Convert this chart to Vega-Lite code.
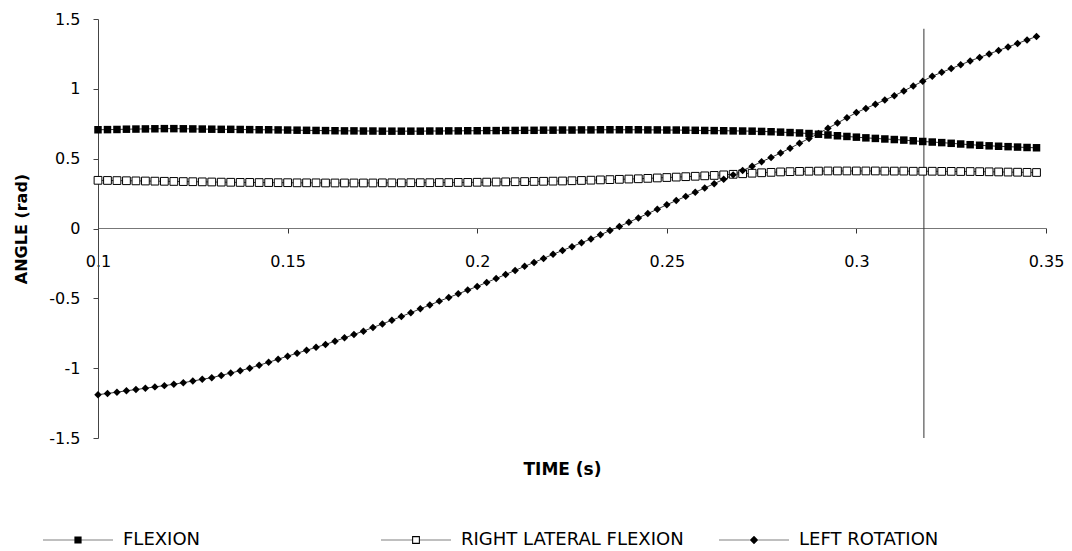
{
"$schema":"https://vega.github.io/schema/vega-lite/v6.json",
"width":948,"height":419,
"autosize":{"type":"none"},
"padding":{"left":98,"top":19,"right":26,"bottom":113},
"background":"white",
"config":{"view":{"stroke":null},"font":"DejaVu Sans","axis":{"grid":false}},
"datasets":{
"marker":[{"time":0.3178,"angle":1.43,"angle_end":-1.5}],
"curves":[
{"time":0.1,"series":"FLEXION","angle":0.707},{"time":0.1025,"series":"FLEXION","angle":0.708},{"time":0.105,"series":"FLEXION","angle":0.709},{"time":0.1075,"series":"FLEXION","angle":0.711},{"time":0.11,"series":"FLEXION","angle":0.712},{"time":0.1125,"series":"FLEXION","angle":0.713},{"time":0.115,"series":"FLEXION","angle":0.714},{"time":0.1175,"series":"FLEXION","angle":0.715},{"time":0.12,"series":"FLEXION","angle":0.715},{"time":0.1225,"series":"FLEXION","angle":0.714},{"time":0.125,"series":"FLEXION","angle":0.713},{"time":0.1275,"series":"FLEXION","angle":0.712},{"time":0.13,"series":"FLEXION","angle":0.711},{"time":0.1325,"series":"FLEXION","angle":0.710},{"time":0.135,"series":"FLEXION","angle":0.710},{"time":0.1375,"series":"FLEXION","angle":0.709},{"time":0.14,"series":"FLEXION","angle":0.708},{"time":0.1425,"series":"FLEXION","angle":0.707},{"time":0.145,"series":"FLEXION","angle":0.707},{"time":0.1475,"series":"FLEXION","angle":0.706},{"time":0.15,"series":"FLEXION","angle":0.705},{"time":0.1525,"series":"FLEXION","angle":0.704},{"time":0.155,"series":"FLEXION","angle":0.703},{"time":0.1575,"series":"FLEXION","angle":0.702},{"time":0.16,"series":"FLEXION","angle":0.701},{"time":0.1625,"series":"FLEXION","angle":0.700},{"time":0.165,"series":"FLEXION","angle":0.699},{"time":0.1675,"series":"FLEXION","angle":0.699},{"time":0.17,"series":"FLEXION","angle":0.698},{"time":0.1725,"series":"FLEXION","angle":0.698},{"time":0.175,"series":"FLEXION","angle":0.697},{"time":0.1775,"series":"FLEXION","angle":0.697},{"time":0.18,"series":"FLEXION","angle":0.697},{"time":0.1825,"series":"FLEXION","angle":0.697},{"time":0.185,"series":"FLEXION","angle":0.697},{"time":0.1875,"series":"FLEXION","angle":0.698},{"time":0.19,"series":"FLEXION","angle":0.698},{"time":0.1925,"series":"FLEXION","angle":0.699},{"time":0.195,"series":"FLEXION","angle":0.699},{"time":0.1975,"series":"FLEXION","angle":0.700},{"time":0.2,"series":"FLEXION","angle":0.700},{"time":0.2025,"series":"FLEXION","angle":0.701},{"time":0.205,"series":"FLEXION","angle":0.701},{"time":0.2075,"series":"FLEXION","angle":0.702},{"time":0.21,"series":"FLEXION","angle":0.702},{"time":0.2125,"series":"FLEXION","angle":0.703},{"time":0.215,"series":"FLEXION","angle":0.703},{"time":0.2175,"series":"FLEXION","angle":0.704},{"time":0.22,"series":"FLEXION","angle":0.704},{"time":0.2225,"series":"FLEXION","angle":0.705},{"time":0.225,"series":"FLEXION","angle":0.705},{"time":0.2275,"series":"FLEXION","angle":0.706},{"time":0.23,"series":"FLEXION","angle":0.706},{"time":0.2325,"series":"FLEXION","angle":0.707},{"time":0.235,"series":"FLEXION","angle":0.707},{"time":0.2375,"series":"FLEXION","angle":0.707},{"time":0.24,"series":"FLEXION","angle":0.707},{"time":0.2425,"series":"FLEXION","angle":0.707},{"time":0.245,"series":"FLEXION","angle":0.706},{"time":0.2475,"series":"FLEXION","angle":0.706},{"time":0.25,"series":"FLEXION","angle":0.705},{"time":0.2525,"series":"FLEXION","angle":0.705},{"time":0.255,"series":"FLEXION","angle":0.704},{"time":0.2575,"series":"FLEXION","angle":0.703},{"time":0.26,"series":"FLEXION","angle":0.702},{"time":0.2625,"series":"FLEXION","angle":0.701},{"time":0.265,"series":"FLEXION","angle":0.700},{"time":0.2675,"series":"FLEXION","angle":0.699},{"time":0.27,"series":"FLEXION","angle":0.698},{"time":0.2725,"series":"FLEXION","angle":0.697},{"time":0.275,"series":"FLEXION","angle":0.695},{"time":0.2775,"series":"FLEXION","angle":0.693},{"time":0.28,"series":"FLEXION","angle":0.690},{"time":0.2825,"series":"FLEXION","angle":0.687},{"time":0.285,"series":"FLEXION","angle":0.684},{"time":0.2875,"series":"FLEXION","angle":0.680},{"time":0.29,"series":"FLEXION","angle":0.675},{"time":0.2925,"series":"FLEXION","angle":0.670},{"time":0.295,"series":"FLEXION","angle":0.664},{"time":0.2975,"series":"FLEXION","angle":0.659},{"time":0.3,"series":"FLEXION","angle":0.654},{"time":0.3025,"series":"FLEXION","angle":0.649},{"time":0.305,"series":"FLEXION","angle":0.645},{"time":0.3075,"series":"FLEXION","angle":0.641},{"time":0.31,"series":"FLEXION","angle":0.637},{"time":0.3125,"series":"FLEXION","angle":0.633},{"time":0.315,"series":"FLEXION","angle":0.628},{"time":0.3175,"series":"FLEXION","angle":0.623},{"time":0.32,"series":"FLEXION","angle":0.619},{"time":0.3225,"series":"FLEXION","angle":0.615},{"time":0.325,"series":"FLEXION","angle":0.610},{"time":0.3275,"series":"FLEXION","angle":0.605},{"time":0.33,"series":"FLEXION","angle":0.600},{"time":0.3325,"series":"FLEXION","angle":0.596},{"time":0.335,"series":"FLEXION","angle":0.592},{"time":0.3375,"series":"FLEXION","angle":0.589},{"time":0.34,"series":"FLEXION","angle":0.586},{"time":0.3425,"series":"FLEXION","angle":0.583},{"time":0.345,"series":"FLEXION","angle":0.580},{"time":0.3475,"series":"FLEXION","angle":0.578},
{"time":0.1,"series":"RIGHT LATERAL FLEXION","angle":0.345},{"time":0.1025,"series":"RIGHT LATERAL FLEXION","angle":0.344},{"time":0.105,"series":"RIGHT LATERAL FLEXION","angle":0.343},{"time":0.1075,"series":"RIGHT LATERAL FLEXION","angle":0.342},{"time":0.11,"series":"RIGHT LATERAL FLEXION","angle":0.341},{"time":0.1125,"series":"RIGHT LATERAL FLEXION","angle":0.340},{"time":0.115,"series":"RIGHT LATERAL FLEXION","angle":0.339},{"time":0.1175,"series":"RIGHT LATERAL FLEXION","angle":0.338},{"time":0.12,"series":"RIGHT LATERAL FLEXION","angle":0.337},{"time":0.1225,"series":"RIGHT LATERAL FLEXION","angle":0.336},{"time":0.125,"series":"RIGHT LATERAL FLEXION","angle":0.335},{"time":0.1275,"series":"RIGHT LATERAL FLEXION","angle":0.334},{"time":0.13,"series":"RIGHT LATERAL FLEXION","angle":0.333},{"time":0.1325,"series":"RIGHT LATERAL FLEXION","angle":0.332},{"time":0.135,"series":"RIGHT LATERAL FLEXION","angle":0.331},{"time":0.1375,"series":"RIGHT LATERAL FLEXION","angle":0.330},{"time":0.14,"series":"RIGHT LATERAL FLEXION","angle":0.330},{"time":0.1425,"series":"RIGHT LATERAL FLEXION","angle":0.329},{"time":0.145,"series":"RIGHT LATERAL FLEXION","angle":0.329},{"time":0.1475,"series":"RIGHT LATERAL FLEXION","angle":0.328},{"time":0.15,"series":"RIGHT LATERAL FLEXION","angle":0.328},{"time":0.1525,"series":"RIGHT LATERAL FLEXION","angle":0.327},{"time":0.155,"series":"RIGHT LATERAL FLEXION","angle":0.327},{"time":0.1575,"series":"RIGHT LATERAL FLEXION","angle":0.327},{"time":0.16,"series":"RIGHT LATERAL FLEXION","angle":0.326},{"time":0.1625,"series":"RIGHT LATERAL FLEXION","angle":0.326},{"time":0.165,"series":"RIGHT LATERAL FLEXION","angle":0.326},{"time":0.1675,"series":"RIGHT LATERAL FLEXION","angle":0.326},{"time":0.17,"series":"RIGHT LATERAL FLEXION","angle":0.326},{"time":0.1725,"series":"RIGHT LATERAL FLEXION","angle":0.326},{"time":0.175,"series":"RIGHT LATERAL FLEXION","angle":0.327},{"time":0.1775,"series":"RIGHT LATERAL FLEXION","angle":0.327},{"time":0.18,"series":"RIGHT LATERAL FLEXION","angle":0.327},{"time":0.1825,"series":"RIGHT LATERAL FLEXION","angle":0.328},{"time":0.185,"series":"RIGHT LATERAL FLEXION","angle":0.328},{"time":0.1875,"series":"RIGHT LATERAL FLEXION","angle":0.328},{"time":0.19,"series":"RIGHT LATERAL FLEXION","angle":0.329},{"time":0.1925,"series":"RIGHT LATERAL FLEXION","angle":0.329},{"time":0.195,"series":"RIGHT LATERAL FLEXION","angle":0.330},{"time":0.1975,"series":"RIGHT LATERAL FLEXION","angle":0.330},{"time":0.2,"series":"RIGHT LATERAL FLEXION","angle":0.331},{"time":0.2025,"series":"RIGHT LATERAL FLEXION","angle":0.332},{"time":0.205,"series":"RIGHT LATERAL FLEXION","angle":0.333},{"time":0.2075,"series":"RIGHT LATERAL FLEXION","angle":0.334},{"time":0.21,"series":"RIGHT LATERAL FLEXION","angle":0.335},{"time":0.2125,"series":"RIGHT LATERAL FLEXION","angle":0.336},{"time":0.215,"series":"RIGHT LATERAL FLEXION","angle":0.337},{"time":0.2175,"series":"RIGHT LATERAL FLEXION","angle":0.338},{"time":0.22,"series":"RIGHT LATERAL FLEXION","angle":0.339},{"time":0.2225,"series":"RIGHT LATERAL FLEXION","angle":0.340},{"time":0.225,"series":"RIGHT LATERAL FLEXION","angle":0.342},{"time":0.2275,"series":"RIGHT LATERAL FLEXION","angle":0.344},{"time":0.23,"series":"RIGHT LATERAL FLEXION","angle":0.346},{"time":0.2325,"series":"RIGHT LATERAL FLEXION","angle":0.348},{"time":0.235,"series":"RIGHT LATERAL FLEXION","angle":0.350},{"time":0.2375,"series":"RIGHT LATERAL FLEXION","angle":0.352},{"time":0.24,"series":"RIGHT LATERAL FLEXION","angle":0.354},{"time":0.2425,"series":"RIGHT LATERAL FLEXION","angle":0.356},{"time":0.245,"series":"RIGHT LATERAL FLEXION","angle":0.359},{"time":0.2475,"series":"RIGHT LATERAL FLEXION","angle":0.362},{"time":0.25,"series":"RIGHT LATERAL FLEXION","angle":0.365},{"time":0.2525,"series":"RIGHT LATERAL FLEXION","angle":0.368},{"time":0.255,"series":"RIGHT LATERAL FLEXION","angle":0.371},{"time":0.2575,"series":"RIGHT LATERAL FLEXION","angle":0.374},{"time":0.26,"series":"RIGHT LATERAL FLEXION","angle":0.377},{"time":0.2625,"series":"RIGHT LATERAL FLEXION","angle":0.380},{"time":0.265,"series":"RIGHT LATERAL FLEXION","angle":0.384},{"time":0.2675,"series":"RIGHT LATERAL FLEXION","angle":0.388},{"time":0.27,"series":"RIGHT LATERAL FLEXION","angle":0.392},{"time":0.2725,"series":"RIGHT LATERAL FLEXION","angle":0.396},{"time":0.275,"series":"RIGHT LATERAL FLEXION","angle":0.399},{"time":0.2775,"series":"RIGHT LATERAL FLEXION","angle":0.402},{"time":0.28,"series":"RIGHT LATERAL FLEXION","angle":0.405},{"time":0.2825,"series":"RIGHT LATERAL FLEXION","angle":0.407},{"time":0.285,"series":"RIGHT LATERAL FLEXION","angle":0.409},{"time":0.2875,"series":"RIGHT LATERAL FLEXION","angle":0.410},{"time":0.29,"series":"RIGHT LATERAL FLEXION","angle":0.411},{"time":0.2925,"series":"RIGHT LATERAL FLEXION","angle":0.412},{"time":0.295,"series":"RIGHT LATERAL FLEXION","angle":0.412},{"time":0.2975,"series":"RIGHT LATERAL FLEXION","angle":0.412},{"time":0.3,"series":"RIGHT LATERAL FLEXION","angle":0.412},{"time":0.3025,"series":"RIGHT LATERAL FLEXION","angle":0.412},{"time":0.305,"series":"RIGHT LATERAL FLEXION","angle":0.412},{"time":0.3075,"series":"RIGHT LATERAL FLEXION","angle":0.411},{"time":0.31,"series":"RIGHT LATERAL FLEXION","angle":0.411},{"time":0.3125,"series":"RIGHT LATERAL FLEXION","angle":0.411},{"time":0.315,"series":"RIGHT LATERAL FLEXION","angle":0.410},{"time":0.3175,"series":"RIGHT LATERAL FLEXION","angle":0.410},{"time":0.32,"series":"RIGHT LATERAL FLEXION","angle":0.410},{"time":0.3225,"series":"RIGHT LATERAL FLEXION","angle":0.409},{"time":0.325,"series":"RIGHT LATERAL FLEXION","angle":0.409},{"time":0.3275,"series":"RIGHT LATERAL FLEXION","angle":0.408},{"time":0.33,"series":"RIGHT LATERAL FLEXION","angle":0.408},{"time":0.3325,"series":"RIGHT LATERAL FLEXION","angle":0.407},{"time":0.335,"series":"RIGHT LATERAL FLEXION","angle":0.406},{"time":0.3375,"series":"RIGHT LATERAL FLEXION","angle":0.405},{"time":0.34,"series":"RIGHT LATERAL FLEXION","angle":0.404},{"time":0.3425,"series":"RIGHT LATERAL FLEXION","angle":0.403},{"time":0.345,"series":"RIGHT LATERAL FLEXION","angle":0.402},{"time":0.3475,"series":"RIGHT LATERAL FLEXION","angle":0.401},
{"time":0.1,"series":"LEFT ROTATION","angle":-1.190},{"time":0.1025,"series":"LEFT ROTATION","angle":-1.181},{"time":0.105,"series":"LEFT ROTATION","angle":-1.172},{"time":0.1075,"series":"LEFT ROTATION","angle":-1.162},{"time":0.11,"series":"LEFT ROTATION","angle":-1.153},{"time":0.1125,"series":"LEFT ROTATION","angle":-1.144},{"time":0.115,"series":"LEFT ROTATION","angle":-1.134},{"time":0.1175,"series":"LEFT ROTATION","angle":-1.125},{"time":0.12,"series":"LEFT ROTATION","angle":-1.115},{"time":0.1225,"series":"LEFT ROTATION","angle":-1.104},{"time":0.125,"series":"LEFT ROTATION","angle":-1.092},{"time":0.1275,"series":"LEFT ROTATION","angle":-1.080},{"time":0.13,"series":"LEFT ROTATION","angle":-1.068},{"time":0.1325,"series":"LEFT ROTATION","angle":-1.052},{"time":0.135,"series":"LEFT ROTATION","angle":-1.035},{"time":0.1375,"series":"LEFT ROTATION","angle":-1.018},{"time":0.14,"series":"LEFT ROTATION","angle":-1.000},{"time":0.1425,"series":"LEFT ROTATION","angle":-0.979},{"time":0.145,"series":"LEFT ROTATION","angle":-0.958},{"time":0.1475,"series":"LEFT ROTATION","angle":-0.936},{"time":0.15,"series":"LEFT ROTATION","angle":-0.914},{"time":0.1525,"series":"LEFT ROTATION","angle":-0.893},{"time":0.155,"series":"LEFT ROTATION","angle":-0.872},{"time":0.1575,"series":"LEFT ROTATION","angle":-0.851},{"time":0.16,"series":"LEFT ROTATION","angle":-0.830},{"time":0.1625,"series":"LEFT ROTATION","angle":-0.807},{"time":0.165,"series":"LEFT ROTATION","angle":-0.783},{"time":0.1675,"series":"LEFT ROTATION","angle":-0.759},{"time":0.17,"series":"LEFT ROTATION","angle":-0.735},{"time":0.1725,"series":"LEFT ROTATION","angle":-0.709},{"time":0.175,"series":"LEFT ROTATION","angle":-0.683},{"time":0.1775,"series":"LEFT ROTATION","angle":-0.657},{"time":0.18,"series":"LEFT ROTATION","angle":-0.630},{"time":0.1825,"series":"LEFT ROTATION","angle":-0.603},{"time":0.185,"series":"LEFT ROTATION","angle":-0.575},{"time":0.1875,"series":"LEFT ROTATION","angle":-0.548},{"time":0.19,"series":"LEFT ROTATION","angle":-0.520},{"time":0.1925,"series":"LEFT ROTATION","angle":-0.494},{"time":0.195,"series":"LEFT ROTATION","angle":-0.468},{"time":0.1975,"series":"LEFT ROTATION","angle":-0.441},{"time":0.2,"series":"LEFT ROTATION","angle":-0.415},{"time":0.2025,"series":"LEFT ROTATION","angle":-0.386},{"time":0.205,"series":"LEFT ROTATION","angle":-0.358},{"time":0.2075,"series":"LEFT ROTATION","angle":-0.329},{"time":0.21,"series":"LEFT ROTATION","angle":-0.300},{"time":0.2125,"series":"LEFT ROTATION","angle":-0.271},{"time":0.215,"series":"LEFT ROTATION","angle":-0.243},{"time":0.2175,"series":"LEFT ROTATION","angle":-0.214},{"time":0.22,"series":"LEFT ROTATION","angle":-0.185},{"time":0.2225,"series":"LEFT ROTATION","angle":-0.157},{"time":0.225,"series":"LEFT ROTATION","angle":-0.130},{"time":0.2275,"series":"LEFT ROTATION","angle":-0.102},{"time":0.23,"series":"LEFT ROTATION","angle":-0.075},{"time":0.2325,"series":"LEFT ROTATION","angle":-0.045},{"time":0.235,"series":"LEFT ROTATION","angle":-0.015},{"time":0.2375,"series":"LEFT ROTATION","angle":0.015},{"time":0.24,"series":"LEFT ROTATION","angle":0.045},{"time":0.2425,"series":"LEFT ROTATION","angle":0.076},{"time":0.245,"series":"LEFT ROTATION","angle":0.107},{"time":0.2475,"series":"LEFT ROTATION","angle":0.138},{"time":0.25,"series":"LEFT ROTATION","angle":0.170},{"time":0.2525,"series":"LEFT ROTATION","angle":0.200},{"time":0.255,"series":"LEFT ROTATION","angle":0.230},{"time":0.2575,"series":"LEFT ROTATION","angle":0.260},{"time":0.26,"series":"LEFT ROTATION","angle":0.290},{"time":0.2625,"series":"LEFT ROTATION","angle":0.321},{"time":0.265,"series":"LEFT ROTATION","angle":0.352},{"time":0.2675,"series":"LEFT ROTATION","angle":0.384},{"time":0.27,"series":"LEFT ROTATION","angle":0.415},{"time":0.2725,"series":"LEFT ROTATION","angle":0.446},{"time":0.275,"series":"LEFT ROTATION","angle":0.478},{"time":0.2775,"series":"LEFT ROTATION","angle":0.509},{"time":0.28,"series":"LEFT ROTATION","angle":0.540},{"time":0.2825,"series":"LEFT ROTATION","angle":0.575},{"time":0.285,"series":"LEFT ROTATION","angle":0.610},{"time":0.2875,"series":"LEFT ROTATION","angle":0.645},{"time":0.29,"series":"LEFT ROTATION","angle":0.680},{"time":0.2925,"series":"LEFT ROTATION","angle":0.718},{"time":0.295,"series":"LEFT ROTATION","angle":0.755},{"time":0.2975,"series":"LEFT ROTATION","angle":0.793},{"time":0.3,"series":"LEFT ROTATION","angle":0.830},{"time":0.3025,"series":"LEFT ROTATION","angle":0.860},{"time":0.305,"series":"LEFT ROTATION","angle":0.890},{"time":0.3075,"series":"LEFT ROTATION","angle":0.920},{"time":0.31,"series":"LEFT ROTATION","angle":0.950},{"time":0.3125,"series":"LEFT ROTATION","angle":0.985},{"time":0.315,"series":"LEFT ROTATION","angle":1.020},{"time":0.3175,"series":"LEFT ROTATION","angle":1.055},{"time":0.32,"series":"LEFT ROTATION","angle":1.090},{"time":0.3225,"series":"LEFT ROTATION","angle":1.118},{"time":0.325,"series":"LEFT ROTATION","angle":1.145},{"time":0.3275,"series":"LEFT ROTATION","angle":1.172},{"time":0.33,"series":"LEFT ROTATION","angle":1.200},{"time":0.3325,"series":"LEFT ROTATION","angle":1.225},{"time":0.335,"series":"LEFT ROTATION","angle":1.250},{"time":0.3375,"series":"LEFT ROTATION","angle":1.275},{"time":0.34,"series":"LEFT ROTATION","angle":1.300},{"time":0.3425,"series":"LEFT ROTATION","angle":1.325},{"time":0.345,"series":"LEFT ROTATION","angle":1.350},{"time":0.3475,"series":"LEFT ROTATION","angle":1.375}
]},
"layer":[
{"data":{"name":"curves"},
 "mark":{"type":"line","color":"black","strokeWidth":0.8},
 "encoding":{
  "x":{"field":"time","type":"quantitative","scale":{"domain":[0.1,0.35],"nice":false,"zero":false},
   "axis":{"values":[0.1,0.15,0.2,0.25,0.3,0.35],"format":".2~f","title":"TIME (s)","offset":-210,
    "domainColor":"#777","domainWidth":1,"tickColor":"#333","tickSize":5,"tickWidth":1,
    "labelFontSize":16,"labelColor":"black","labelPadding":20,"labelFlush":false,"labelOverlap":false,
    "titleFontSize":17,"titleFontWeight":"bold","titleColor":"black","titleY":241,"titleX":464,"titleBaseline":"middle","titleAlign":"center"}},
  "y":{"field":"angle","type":"quantitative","scale":{"domain":[-1.5,1.5],"nice":false,"zero":false},
   "axis":{"values":[-1.5,-1,-0.5,0,0.5,1,1.5],"labelExpr":"datum.value < 0 ? '-' + format(-datum.value, '~g') : format(datum.value, '~g')",
    "title":"ANGLE (rad)","domainColor":"#444","domainWidth":1,"tickColor":"#444","tickSize":5,
    "labelFontSize":16,"labelColor":"black","labelPadding":13,"labelFlush":false,"labelOverlap":false,
    "titleFontSize":16,"titleFontWeight":"bold","titleColor":"black","titleX":-77,"titleY":209.5,"titleAngle":270,"titleAlign":"center","titleBaseline":"middle"}},
  "detail":{"field":"series"}}},
{"data":{"name":"marker"},
 "mark":{"type":"rule","color":"#333","strokeWidth":1},
 "encoding":{"x":{"field":"time","type":"quantitative"},"y":{"field":"angle","type":"quantitative"},"y2":{"field":"angle_end"}}},
{"data":{"name":"curves"},
 "transform":[{"filter":"datum.series == 'RIGHT LATERAL FLEXION'"}],
 "mark":{"type":"point","shape":"square","size":60,"filled":true,"fill":"white","stroke":"black","strokeWidth":1,"opacity":1},
 "encoding":{"x":{"field":"time","type":"quantitative"},"y":{"field":"angle","type":"quantitative"}}},
{"data":{"name":"curves"},
 "transform":[{"filter":"datum.series == 'FLEXION'"}],
 "mark":{"type":"point","shape":"square","size":56,"filled":true,"color":"black","opacity":1},
 "encoding":{"x":{"field":"time","type":"quantitative"},"y":{"field":"angle","type":"quantitative"}}},
{"data":{"name":"curves"},
 "transform":[{"filter":"datum.series == 'LEFT ROTATION'"}],
 "mark":{"type":"point","shape":"diamond","size":56,"filled":true,"color":"black","opacity":1},
 "encoding":{"x":{"field":"time","type":"quantitative"},"y":{"field":"angle","type":"quantitative"}}},
{"data":{"name":"curves"},
 "transform":[{"filter":"datum.time < 0"}],
 "mark":{"type":"point","filled":true,"color":"black","size":36,"strokeWidth":0,"opacity":1},
 "encoding":{"x":{"field":"time","type":"quantitative"},"y":{"field":"angle","type":"quantitative"},
  "shape":{"field":"series","type":"nominal",
   "scale":{"domain":["FLEXION","RIGHT LATERAL FLEXION","LEFT ROTATION"],
    "range":["M-11.7,-0.12H-1.2V0.12H-11.7ZM1.2,-0.12H11.7V0.12H1.2ZM-1.2,-1.2H1.2V1.2H-1.2Z",
             "M-11.7,-0.12H-1.3V0.12H-11.7ZM1.3,-0.12H11.7V0.12H1.3ZM-1.3,-1.3H1.3V1.3H-1.3ZM-0.95,-0.95V0.95H0.95V-0.95Z",
             "M-11.7,-0.12H-1.4V0.12H-11.7ZM1.4,-0.12H11.7V0.12H1.4ZM0,-1.4L1.4,0L0,1.4L-1.4,0Z"]},
   "legend":{"title":null,"orient":"none","legendX":-29,"legendY":512,"direction":"horizontal","columns":3,"gridAlign":"all","columnPadding":34,
    "symbolSize":36,"symbolFillColor":"black","symbolStrokeColor":"black","symbolStrokeWidth":0,"symbolOpacity":1,
    "labelFontSize":18,"labelColor":"black","labelOffset":36,"labelLimit":400}}}}
]
}
